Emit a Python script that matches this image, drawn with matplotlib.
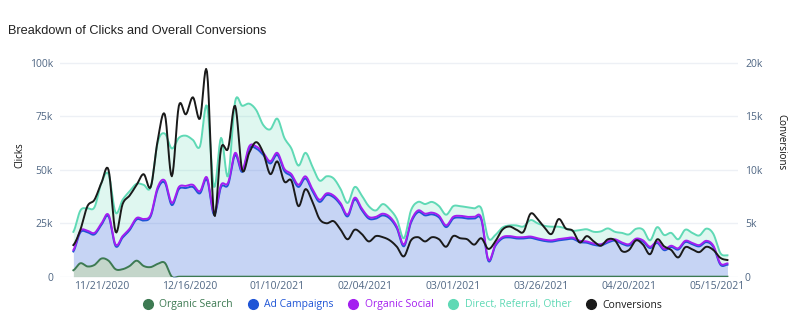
import numpy as np
import pandas as pd
import matplotlib
matplotlib.use('Agg')
import matplotlib.pyplot as plt
import matplotlib.dates as mdates
from matplotlib.lines import Line2D
from matplotlib.ticker import FuncFormatter

plt.rcParams['font.family'] = ['Open Sans', 'DejaVu Sans']

# one sample every two days
dates = pd.date_range('2020-11-13', periods=94, freq='2D')

organic_search = [
    3000, 6300, 4800, 5500, 8500, 7500, 3500, 3500, 5000, 7500,
    5000, 4500, 6000, 6500, 0, 0, 0, 0, 0, 0,
    0, 0, 0, 0, 0, 0, 0, 0, 0, 0,
    0, 0, 0, 0, 0, 0, 0, 0, 0, 0,
    0, 0, 0, 0, 0, 0, 0, 0, 0, 0,
    0, 0, 0, 0, 0, 0, 0, 0, 0, 0,
    0, 0, 0, 0, 0, 0, 0, 0, 0, 0,
    0, 0, 0, 0, 0, 0, 0, 0, 0, 0,
    0, 0, 0, 0, 0, 0, 0, 0, 0, 0,
    0, 0, 0, 0,
]
ad_campaigns = [
    8800, 14500, 16000, 14300, 15800, 20800, 10800, 14800, 16800, 19300,
    21300, 23800, 35000, 37500, 33500, 41000, 41500, 42000, 39000, 45500,
    29000, 42000, 43000, 57000, 49000, 60000, 60000, 57000, 53000, 57000,
    49500, 47000, 42000, 46000, 40000, 35000, 38200, 37200, 33600, 28200,
    36200, 31200, 27200, 27200, 28700, 27200, 22600, 14200, 25200, 30200,
    28700, 29200, 27700, 23200, 27200, 27700, 27200, 27200, 26700, 7400,
    14400, 17900, 18400, 17900, 17900, 18200, 17400, 16700, 16400, 17000,
    17400, 17700, 16200, 15900, 14900, 14600, 16000, 16900, 15400, 14600,
    17200, 16400, 13400, 15800, 12400, 13900, 12700, 16200, 15200, 14200,
    16200, 13900, 5600, 5600,
]
organic_social = [
    700, 700, 700, 700, 700, 700, 700, 700, 700, 700,
    700, 700, 1000, 1000, 1000, 1000, 1000, 1000, 1000, 1000,
    1000, 1000, 1000, 1000, 1000, 1000, 1000, 1000, 1000, 1000,
    1000, 1000, 1000, 1000, 1000, 1000, 800, 800, 800, 800,
    800, 800, 800, 800, 800, 800, 800, 800, 800, 800,
    800, 800, 800, 800, 800, 800, 800, 800, 800, 600,
    600, 600, 600, 600, 600, 600, 600, 600, 600, 600,
    600, 600, 600, 600, 600, 600, 600, 600, 600, 600,
    600, 600, 600, 600, 600, 600, 600, 600, 600, 600,
    600, 600, 600, 600,
]
direct_other = [
    8500, 9500, 10500, 12000, 19000, 19000, 15000, 17000, 17500, 16000,
    16000, 13000, 21000, 22000, 25500, 23000, 23500, 21000, 21000, 33500,
    12000, 22000, 3000, 24000, 30000, 20000, 17000, 13000, 15000, 16000,
    14500, 12000, 9000, 11000, 10500, 9000, 8000, 8000, 6600, 5500,
    5000, 6000, 5000, 3000, 4500, 3500, 3600, 3000, 5000, 4000,
    4500, 5000, 4500, 5000, 5000, 4500, 4500, 4000, 4500, 10000,
    4500, 4500, 5000, 5500, 5000, 7700, 7000, 6500, 6400, 5800,
    4600, 3200, 5000, 5700, 5500, 6000, 6000, 3500, 4500, 4600,
    4600, 5000, 3000, 6800, 6500, 6000, 4200, 5200, 4700, 4500,
    5700, 5500, 4800, 3800,
]
conversions = [
    2960, 4400, 6600, 7200, 8800, 10000, 4200, 6800, 7600, 8600,
    9600, 8400, 12800, 15200, 9400, 16000, 15200, 16800, 14800, 19200,
    5800, 12000, 12000, 16000, 10000, 11600, 12600, 11600, 9600, 10800,
    8900, 9000, 6600, 8200, 7000, 5400, 5000, 5200, 4400, 3500,
    4400, 4000, 3300, 3800, 3700, 3400, 2800, 1900, 3400, 3700,
    3300, 3700, 3500, 2800, 3800, 3600, 3500, 3000, 3600, 2600,
    3300, 4400, 4700, 4400, 4200, 5900, 5400, 4600, 4000, 5400,
    4520, 4300, 3200, 3800, 3300, 2900, 3500, 3400, 2400, 2500,
    3400, 3000, 2100, 3500, 2840, 2500, 1800, 2760, 2560, 2300,
    2800, 2500, 1760, 1560,
]

series_names = ['Organic Search', 'Ad Campaigns', 'Organic Social', 'Direct, Referral, Other', 'Conversions']
series_colors = ['#3d7a52', '#1f55d6', '#a41ff0', '#5fd9b5', '#1a1a1a']

clicks_ticks = [0, 25000, 50000, 75000, 100000]
conv_ticks = [0, 5000, 10000, 15000, 20000]
date_ticks = pd.date_range('2020-11-21', periods=8, freq='25D')


def spline(y, steps=8):
    # Catmull-Rom curve through evenly spaced samples, for a smooth line shape
    y = np.asarray(y, dtype=float)
    p = np.concatenate([[y[0]], y, [y[-1]]])
    t = np.linspace(0, 1, steps, endpoint=False)[:, None]
    p0, p1, p2, p3 = p[:-3], p[1:-2], p[2:-1], p[3:]
    seg = 0.5 * (2 * p1 + (-p0 + p2) * t + (2 * p0 - 5 * p1 + 4 * p2 - p3) * t ** 2
                 + (-p0 + 3 * p1 - 3 * p2 + p3) * t ** 3)
    return np.concatenate([seg.T.ravel(), [y[-1]]])


xnum = mdates.date2num(dates)
xs = np.linspace(xnum[0], xnum[-1], (len(xnum) - 1) * 8 + 1)

# stacked click totals
layers = [organic_search, ad_campaigns, organic_social, direct_other]
tops = np.cumsum(np.array(layers, dtype=float), axis=0)
tops_s = [spline(t) for t in tops]
bottoms_s = [np.zeros(len(xs))] + tops_s[:-1]

fig = plt.figure(figsize=(8, 3.32), dpi=100)
ax = fig.add_axes([0.075, 0.1666, 0.8475, 0.653])

ymax = 101500
ax.set_ylim(0, ymax)
ax.set_xlim(xnum[0] - 3.8, xnum[0] + 189)

for y in clicks_ticks:
    ax.axhline(y, color='#edf0f5', lw=1, zorder=0)

fill_alpha = [0.3, 0.25, 0.25, 0.2]
for i in range(4):
    ax.fill_between(xs, bottoms_s[i], tops_s[i], color=series_colors[i],
                    alpha=fill_alpha[i], lw=0, zorder=1)
for i in range(4):
    ax.plot(xs, tops_s[i], color=series_colors[i], lw=1.4, zorder=2)

ax2 = ax.twinx()
ax2.set_ylim(0, ymax / 5)
ax2.plot(xs, spline(conversions), color=series_colors[4], lw=1.4)

tick_color = '#506784'
ax.set_yticks(clicks_ticks)
ax.yaxis.set_major_formatter(FuncFormatter(lambda v, p: '0' if v == 0 else '%dk' % (v / 1000)))
ax2.set_yticks(conv_ticks)
ax2.yaxis.set_major_formatter(FuncFormatter(lambda v, p: '0' if v == 0 else '%dk' % (v / 1000)))
ax.set_xticks(mdates.date2num(date_ticks))
ax.xaxis.set_major_formatter(mdates.DateFormatter('%m/%d/%Y'))

for a in (ax, ax2):
    for s in a.spines.values():
        s.set_visible(False)
    a.tick_params(length=0, labelsize=7.5, labelcolor=tick_color)
ax.tick_params(axis='y', pad=5)
ax2.tick_params(axis='y', pad=5)
ax.tick_params(axis='x', pad=3)

fig.text(8 / 800, 1 - 31 / 332, 'Breakdown of Clicks and Overall Conversions',
         fontsize=9.2, color='#222222', va='center', ha='left', family=['Liberation Sans', 'DejaVu Sans'])
fig.text(20 / 800, 1 - 155 / 332, 'Clicks', rotation=90, fontsize=7, color='#111111',
         va='center', ha='center')
fig.text(781 / 800, 1 - 142 / 332, 'Conversions', rotation=270, fontsize=7, color='#111111',
         va='center', ha='center')

handles = [Line2D([], [], ls='', marker='o', markersize=7, color=c) for c in series_colors]
fig.legend(handles, series_names, loc='center', bbox_to_anchor=(0.5, 1 - 305 / 332),
           ncol=5, frameon=False, fontsize=7.5, handletextpad=0.1, columnspacing=0.9,
           labelcolor=series_colors)

fig.savefig('out.png', dpi=100)
